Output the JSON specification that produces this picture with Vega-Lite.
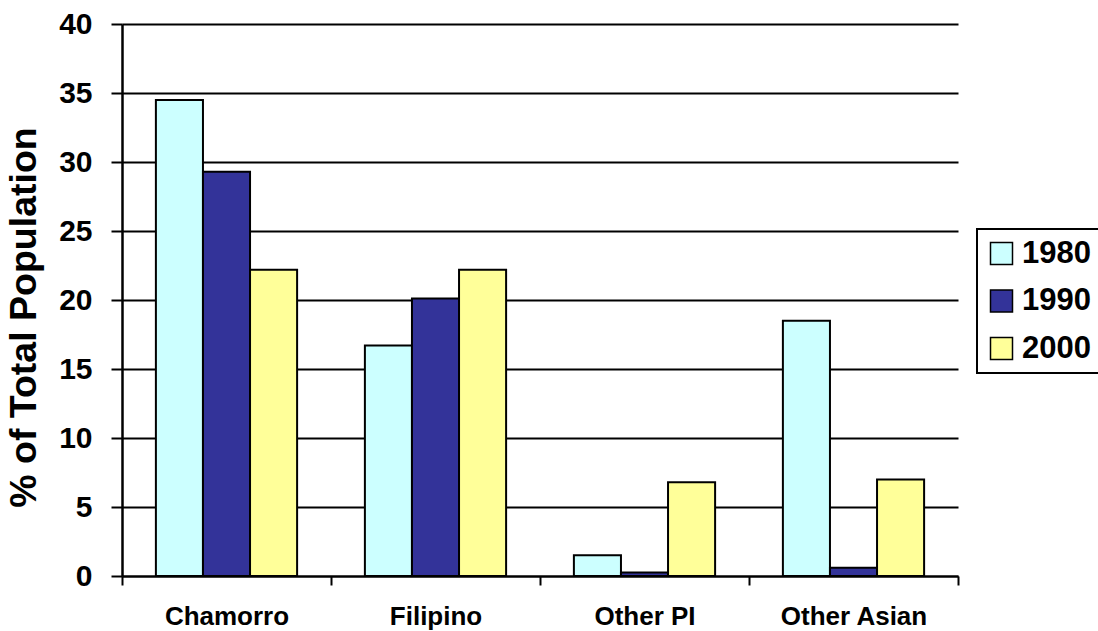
{
  "$schema": "https://vega.github.io/schema/vega-lite/v6.json",
  "autosize": {"type": "none"},
  "padding": {"left": 122, "top": 24, "right": 140, "bottom": 55},
  "width": 836,
  "height": 552,
  "background": "white",
  "data": {
    "values": [
      {"group": "Chamorro", "year": "1980", "pct": 34.5},
      {"group": "Chamorro", "year": "1990", "pct": 29.3},
      {"group": "Chamorro", "year": "2000", "pct": 22.2},
      {"group": "Filipino", "year": "1980", "pct": 16.7},
      {"group": "Filipino", "year": "1990", "pct": 20.1},
      {"group": "Filipino", "year": "2000", "pct": 22.2},
      {"group": "Other PI", "year": "1980", "pct": 1.5},
      {"group": "Other PI", "year": "1990", "pct": 0.25},
      {"group": "Other PI", "year": "2000", "pct": 6.8},
      {"group": "Other Asian", "year": "1980", "pct": 18.5},
      {"group": "Other Asian", "year": "1990", "pct": 0.6},
      {"group": "Other Asian", "year": "2000", "pct": 7.0}
    ]
  },
  "mark": {"type": "bar", "stroke": "black", "strokeWidth": 2},
  "encoding": {
    "x": {
      "field": "group",
      "type": "nominal",
      "sort": ["Chamorro", "Filipino", "Other PI", "Other Asian"],
      "scale": {"paddingInner": 0, "paddingOuter": 0},
      "axis": {
        "title": null,
        "labelAngle": 0,
        "labelFont": "Liberation Sans",
        "labelFontWeight": "bold",
        "labelFontSize": 26,
        "labelColor": "black",
        "labelPadding": 18,
        "tickBand": "extent",
        "tickSize": 9,
        "tickWidth": 2,
        "tickColor": "black",
        "domainColor": "black",
        "domainWidth": 2,
        "grid": false
      }
    },
    "xOffset": {
      "field": "year",
      "type": "nominal",
      "scale": {"paddingInner": 0, "paddingOuter": 0.72}
    },
    "y": {
      "field": "pct",
      "type": "quantitative",
      "scale": {"domain": [0, 40], "nice": false},
      "axis": {
        "title": "% of Total Population",
        "titleFont": "Liberation Sans",
        "titleFontWeight": "bold",
        "titleFontSize": 37.5,
        "titleColor": "black",
        "titlePadding": 15,
        "titleY": 293,
        "values": [0, 5, 10, 15, 20, 25, 30, 35, 40],
        "labelFont": "Liberation Sans",
        "labelFontWeight": "bold",
        "labelFontSize": 30,
        "labelColor": "black",
        "labelPadding": 19,
        "tickSize": 11,
        "tickWidth": 2,
        "tickColor": "black",
        "domainColor": "black",
        "domainWidth": 2.5,
        "grid": true,
        "gridColor": "black",
        "gridWidth": 2,
        "gridOpacity": 1
      }
    },
    "fill": {
      "field": "year",
      "type": "nominal",
      "scale": {"domain": ["1980", "1990", "2000"], "range": ["#CCFFFF", "#333399", "#FFFF99"]},
      "legend": {
        "title": null,
        "orient": "none",
        "legendX": 855,
        "legendY": 205,
        "symbolType": "square",
        "symbolSize": 484,
        "symbolStrokeColor": "black",
        "symbolStrokeWidth": 1.5,
        "symbolOpacity": 1,
        "labelFont": "Liberation Sans",
        "labelFontWeight": "bold",
        "labelFontSize": 31,
        "labelColor": "black",
        "labelOffset": 5,
        "rowPadding": 15.5,
        "padding": 9,
        "strokeColor": "black",
        "fillColor": "white"
      }
    }
  },
  "config": {
    "view": {"stroke": null},
    "axis": {"labelOverlap": false},
    "legend": {"strokeWidth": 2}
  }
}
